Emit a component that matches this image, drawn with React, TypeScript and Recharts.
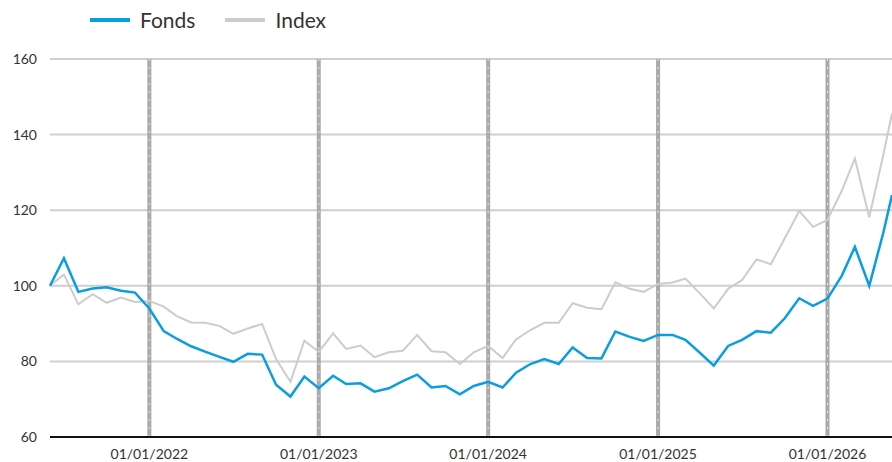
import { LineChart, Line, XAxis, YAxis, CartesianGrid, ReferenceLine } from "recharts";

// monthly dates (first of month), last point is a partial month
const months = [
  "2021-06-01", "2021-07-01", "2021-08-01", "2021-09-01", "2021-10-01", "2021-11-01", "2021-12-01",
  "2022-01-01", "2022-02-01", "2022-03-01", "2022-04-01", "2022-05-01", "2022-06-01",
  "2022-07-01", "2022-08-01", "2022-09-01", "2022-10-01", "2022-11-01", "2022-12-01",
  "2023-01-01", "2023-02-01", "2023-03-01", "2023-04-01", "2023-05-01", "2023-06-01",
  "2023-07-01", "2023-08-01", "2023-09-01", "2023-10-01", "2023-11-01", "2023-12-01",
  "2024-01-01", "2024-02-01", "2024-03-01", "2024-04-01", "2024-05-01", "2024-06-01",
  "2024-07-01", "2024-08-01", "2024-09-01", "2024-10-01", "2024-11-01", "2024-12-01",
  "2025-01-01", "2025-02-01", "2025-03-01", "2025-04-01", "2025-05-01", "2025-06-01",
  "2025-07-01", "2025-08-01", "2025-09-01", "2025-10-01", "2025-11-01", "2025-12-01",
  "2026-01-01", "2026-02-01", "2026-03-01", "2026-04-01", "2026-05-01", "2026-05-20",
];

const fonds = [
  100, 107.3, 98.4, 99.3, 99.6, 98.7, 98.2,
  94.0, 88.0, 86.0, 84.0, 82.6, 81.2, 79.9, 82.0, 81.8, 73.8, 70.7, 76.0,
  72.9, 76.2, 74.0, 74.2, 72.0, 72.9, 74.8, 76.5, 73.1, 73.5, 71.3, 73.5,
  74.6, 73.1, 77.0, 79.3, 80.6, 79.3, 83.7, 80.9, 80.8, 87.9, 86.5, 85.4,
  87.0, 87.0, 85.7, 82.3, 78.9, 84.1, 85.7, 88.0, 87.6, 91.4, 96.7, 94.7,
  96.6, 102.7, 110.3, 100.0, 113.9, 124.0,
];

const index = [
  100, 103.0, 95.1, 97.8, 95.5, 96.9, 95.7,
  96.0, 94.5, 92.0, 90.3, 90.2, 89.4, 87.3, 88.7, 89.9, 80.6, 74.6, 85.5,
  82.5, 87.4, 83.3, 84.2, 81.1, 82.4, 82.8, 87.0, 82.7, 82.4, 79.3, 82.4,
  84.1, 80.9, 85.8, 88.3, 90.2, 90.2, 95.4, 94.2, 93.8, 100.9, 99.2, 98.4,
  100.5, 100.9, 101.9, 98.0, 94.0, 99.2, 101.5, 107.0, 105.7, 112.6, 119.8, 115.6,
  117.4, 125.2, 133.7, 118.1, 134.5, 145.6,
];

const yearTicks = ["2022-01-01", "2023-01-01", "2024-01-01", "2025-01-01", "2026-01-01"];
const yTicks = [60, 80, 100, 120, 140, 160];

const toTs = (d: string) => new Date(d + "T00:00:00Z").getTime();

const data = months.map((m, i) => ({ t: toTs(m), fonds: fonds[i], index: index[i] }));
const xTicks = yearTicks.map(toTs);

const fmtDate = (v: number) => {
  const d = new Date(v);
  const dd = String(d.getUTCDate()).padStart(2, "0");
  const mm = String(d.getUTCMonth() + 1).padStart(2, "0");
  return `${dd}/${mm}/${d.getUTCFullYear()}`;
};

const FONT = "Lato, 'Open Sans', sans-serif";

export default function App() {
  return (
    <div style={{ position: "absolute", left: 0, top: 0, width: 892, height: 462, background: "#fff", fontFamily: FONT }}>
      <div style={{ position: "absolute", left: 90, top: 7, display: "flex", alignItems: "center", fontSize: 21, color: "#333" }}>
        <span style={{ display: "inline-block", width: 40, height: 4, background: "#0a9ee0", marginRight: 10 }} />
        <span style={{ marginRight: 30 }}>Fonds</span>
        <span style={{ display: "inline-block", width: 40, height: 4, background: "#cccccc", marginRight: 10 }} />
        <span>Index</span>
      </div>
      <LineChart width={892} height={462} data={data} margin={{ top: 59, right: 0, left: 0, bottom: 0 }}>
        <CartesianGrid vertical={false} stroke="#cfcfcf" strokeWidth={2} />
        <XAxis
          dataKey="t"
          type="number"
          scale="time"
          domain={[data[0].t, data[data.length - 1].t]}
          ticks={xTicks}
          tickFormatter={fmtDate}
          tickLine={false}
          axisLine={{ stroke: "#111", strokeWidth: 2 }}
          tick={{ fill: "#333", fontSize: 14, fontFamily: FONT }}
          tickMargin={6}
          height={25}
        />
        <YAxis
          domain={[60, 160]}
          ticks={yTicks}
          tickLine={false}
          axisLine={false}
          width={50}
          tickMargin={7}
          tick={{ fill: "#333", fontSize: 14, fontFamily: FONT }}
        />
        {xTicks.map((t) => (
          <ReferenceLine key={"g" + t} x={t} stroke="#aaaaaa" strokeWidth={4} />
        ))}
        {xTicks.map((t) => (
          <ReferenceLine key={"w" + t} x={t} stroke="#ffffff" strokeOpacity={0.7} strokeWidth={1} strokeDasharray="2 6" />
        ))}
        <Line type="linear" dataKey="index" stroke="#cccccc" strokeWidth={2} dot={false} isAnimationActive={false} />
        <Line type="linear" dataKey="fonds" stroke="#0a9ee0" strokeWidth={2.5} dot={false} isAnimationActive={false} />
      </LineChart>
    </div>
  );
}
